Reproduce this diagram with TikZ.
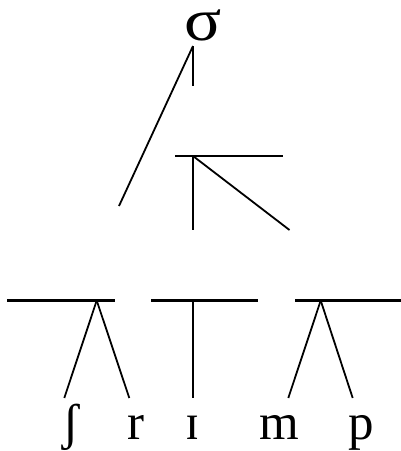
\documentclass[tikz,border=0pt]{standalone}
\usepackage{fontspec}
\setmainfont{Liberation Serif}
\begin{document}
\begin{tikzpicture}[x=1pt,y=-1pt,
  bar/.style={line width=2.6pt},
  branch/.style={line width=1.8pt},
  seg/.style={font=\fontsize{51}{51}\selectfont, inner sep=0pt, anchor=base}]
\useasboundingbox (0,0) rectangle (401,451);
% syllable
\node[font=\fontsize{60}{60}\selectfont, inner sep=0pt, anchor=base, xscale=1.15] (sigma) at (203,40) {σ};
\coordinate (s) at (193,46);
\coordinate (sv) at (193,86);
\coordinate (onsetend) at (119,206);
\draw[branch] (s) -- (sv);
\draw[branch] (s) -- (onsetend);
% rhyme
\coordinate (rl) at (175,156);
\coordinate (rr) at (283,156);
\coordinate (r) at (193,156);
\coordinate (rv) at (193,230);
\coordinate (rd) at (289.5,230);
\draw[bar] (rl) -- (rr);
\draw[branch] (r) -- (rv);
\draw[branch] (r) -- (rd);
% lower bars
\coordinate (b1l) at (7,300.5); \coordinate (b1r) at (115,300.5);
\coordinate (b2l) at (151,300.5); \coordinate (b2r) at (258,300.5);
\coordinate (b3l) at (295,300.5); \coordinate (b3r) at (401,300.5);
\draw[bar] (b1l) -- (b1r);
\draw[bar] (b2l) -- (b2r);
\draw[bar] (b3l) -- (b3r);
\coordinate (a1) at (96.7,300.5);
\coordinate (a2) at (193,300.5);
\coordinate (a3) at (320.7,300.5);
\coordinate (l1) at (64.3,398);
\coordinate (l2) at (129.3,398);
\coordinate (l3) at (193,398);
\coordinate (l4) at (288.3,398);
\coordinate (l5) at (352.7,398);
\draw[branch] (a1) -- (l1);
\draw[branch] (a1) -- (l2);
\draw[branch] (a2) -- (l3);
\draw[branch] (a3) -- (l4);
\draw[branch] (a3) -- (l5);
% segments
\node[seg] (esh) at (70.7,439) {ʃ};
\node[seg] (rr2) at (136,439) {r};
\node[seg] (ih) at (193,439) {ɪ};
\node[seg] (m) at (279,439) {m};
\node[seg] (p) at (361,439) {p};
\end{tikzpicture}
\end{document}
